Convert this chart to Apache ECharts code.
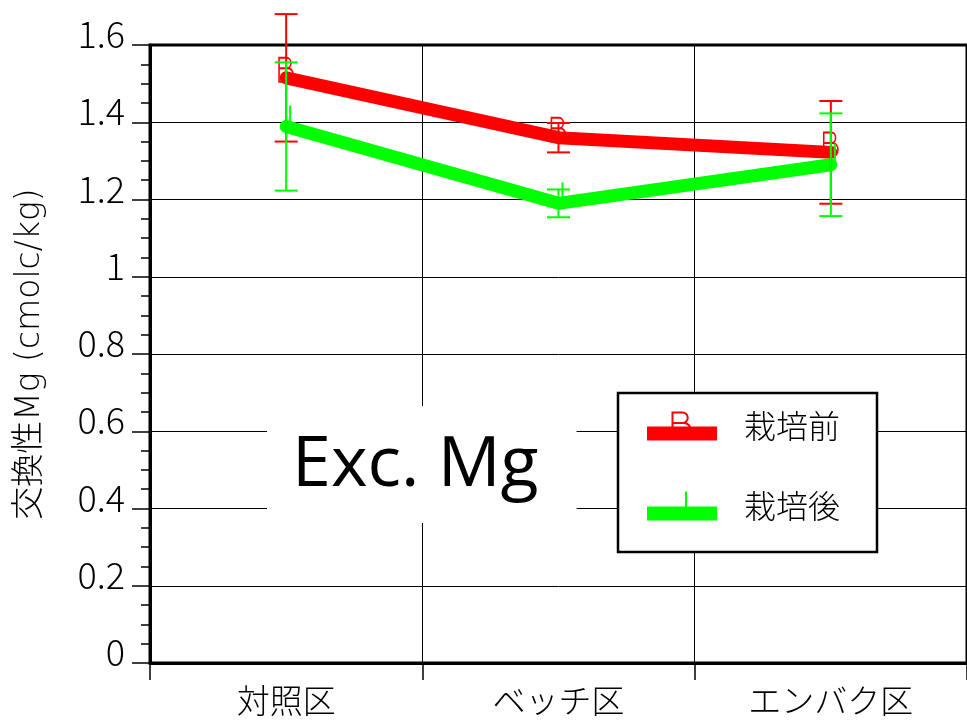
<!DOCTYPE html>
<html>
<head>
<meta charset="utf-8">
<script src="https://cdn.jsdelivr.net/npm/echarts@6/dist/echarts.min.js"></script>
<style>
  html, body { margin: 0; padding: 0; background: #fff; }
  #chart { width: 967px; height: 720px; }
</style>
</head>
<body>
<div id="chart"></div>
<script>
// Plot categories and values (exchangeable Mg, cmolc/kg)
const categories = ['対照区', 'ベッチ区', 'エンバク区'];
const seriesNames = ['栽培前', '栽培後'];
const beforeMean = [1.515, 1.36, 1.322];
const beforeErr = [0.165, 0.038, 0.133];
const afterMean = [1.389, 1.19, 1.29];
const afterErr = [0.166, 0.036, 0.133];
const yTickLabels = ['0', '0.2', '0.4', '0.6', '0.8', '1', '1.2', '1.4', '1.6'];
const panelTitle = 'Exc. Mg';
const yAxisTitle = '交換性Mg (cmolc/kg)';

const RED = '#ff0000';
const GREEN = '#00ff00';
const JP = '"Noto Sans CJK JP", "Noto Sans", sans-serif';
const WIDE = '"DejaVu Sans", "Noto Sans CJK JP", sans-serif';

// Thin outlined "B" glyph built from filled strokes, offset by (ox, oy)
function bGlyph(ox, oy) {
  const p = (x, y) => (ox + x).toFixed(2) + ',' + (oy + y).toFixed(2);
  return [
    'M' + p(0, 0) + ' L' + p(2, 0) + ' L' + p(2, 26) + ' L' + p(0, 26) + ' Z',
    'M' + p(0, 0) + ' L' + p(11, 0) + ' L' + p(11, 2) + ' L' + p(0, 2) + ' Z',
    'M' + p(11, 0) + ' A6.25,6.25 0 0 1 ' + p(11, 12.5) + ' L' + p(11, 10.5) + ' A4.25,4.25 0 0 0 ' + p(11, 2) + ' Z',
    'M' + p(0, 10.5) + ' L' + p(12.5, 10.5) + ' L' + p(12.5, 12.5) + ' L' + p(0, 12.5) + ' Z',
    'M' + p(12.5, 10.5) + ' A7.75,7.75 0 0 1 ' + p(12.5, 26) + ' L' + p(12.5, 24) + ' A5.75,5.75 0 0 0 ' + p(12.5, 12.5) + ' Z',
    'M' + p(0, 24) + ' L' + p(12.5, 24) + ' L' + p(12.5, 26) + ' L' + p(0, 26) + ' Z'
  ].join(' ');
}

const markerB = 'path://' + bGlyph(0, 0);
// Legend keys: a thick bar with the series marker sitting on top of it
const legendIconBefore = 'path://' + bGlyph(24.5, 0) + ' M0,15 L70,15 L70,29 L0,29 Z';
const legendIconAfter = 'path://M38,0 L40,0 L40,15 L38,15 Z M0,15 L70,15 L70,29 L0,29 Z';

function errorBars(name, color, means, errs, z) {
  return {
    type: 'custom',
    name: name + ' error',
    z: z,
    silent: true,
    data: means.map((m, i) => [i, m - errs[i], m + errs[i]]),
    encode: { x: 0, y: [1, 2] },
    renderItem: function (params, api) {
      const lo = api.coord([api.value(0), api.value(1)]);
      const hi = api.coord([api.value(0), api.value(2)]);
      const w = 11.5;
      const style = { stroke: color, lineWidth: 2, fill: null };
      return {
        type: 'group',
        children: [
          { type: 'line', shape: { x1: hi[0], y1: hi[1], x2: lo[0], y2: lo[1] }, style: style },
          { type: 'line', shape: { x1: hi[0] - w, y1: hi[1], x2: hi[0] + w, y2: hi[1] }, style: style },
          { type: 'line', shape: { x1: lo[0] - w, y1: lo[1], x2: lo[0] + w, y2: lo[1] }, style: style }
        ]
      };
    }
  };
}

const chart = echarts.init(document.getElementById('chart'), null, { renderer: 'canvas' });

chart.setOption({
  animation: false,
  backgroundColor: '#fff',
  title: {
    text: panelTitle,
    left: 267,
    top: 406,
    backgroundColor: '#fff',
    padding: [25, 38, 22, 25],
    z: 20,
    textStyle: {
      fontFamily: '"Open Sans", sans-serif',
      fontSize: 70,
      fontWeight: 'normal',
      color: '#000'
    }
  },
  legend: {
    orient: 'vertical',
    left: 618,
    top: 393,
    selectedMode: false,
    backgroundColor: '#fff',
    borderColor: '#000',
    borderWidth: 2.5,
    padding: [17, 37, 30, 29],
    itemWidth: 70,
    itemHeight: 29,
    itemGap: 48,
    z: 20,
    textStyle: {
      fontFamily: JP,
      fontSize: 32,
      fontWeight: 300,
      color: '#000',
      padding: [0, 0, 0, 22]
    },
    data: [
      { name: seriesNames[0], icon: legendIconBefore, itemStyle: { color: RED, borderWidth: 0 } },
      { name: seriesNames[1], icon: legendIconAfter, itemStyle: { color: GREEN, borderWidth: 0 } }
    ]
  },
  grid: {
    left: 150,
    top: 45,
    width: 823,
    height: 618,
    show: true,
    borderColor: '#000',
    borderWidth: 3,
    backgroundColor: 'transparent'
  },
  xAxis: {
    type: 'category',
    data: categories,
    boundaryGap: true,
    axisLine: { lineStyle: { color: '#000', width: 3 } },
    axisTick: { show: true, length: 17, lineStyle: { color: '#000', width: 1.5 } },
    splitLine: { show: true, lineStyle: { color: '#000', width: 1 } },
    axisLabel: { fontFamily: JP, fontSize: 33, fontWeight: 300, color: '#000', margin: 21 }
  },
  yAxis: {
    type: 'value',
    min: 0,
    max: 1.6,
    interval: 0.2,
    name: yAxisTitle,
    nameLocation: 'middle',
    nameRotate: 90,
    nameGap: 103,
    nameTextStyle: { fontFamily: WIDE, fontSize: 33, fontWeight: 300, color: '#000' },
    axisLine: { show: true, lineStyle: { color: '#000', width: 3 } },
    axisTick: { show: true, inside: false, length: 18, lineStyle: { color: '#000', width: 1.5 } },
    minorTick: { show: true, splitNumber: 4, length: 9, lineStyle: { color: '#000', width: 1.5 } },
    splitLine: { show: true, lineStyle: { color: '#000', width: 1 } },
    axisLabel: {
      fontFamily: JP,
      fontSize: 36,
      fontWeight: 300,
      color: '#000',
      margin: 25,
      verticalAlign: 'bottom',
      lineHeight: 21,
      formatter: (v, i) => yTickLabels[i]
    }
  },
  series: [
    {
      type: 'line',
      name: seriesNames[0],
      data: beforeMean,
      z: 2,
      symbol: markerB,
      symbolSize: [20.25, 26],
      symbolKeepAspect: true,
      symbolOffset: [0, -8],
      showAllSymbol: true,
      itemStyle: { color: RED, borderWidth: 0 },
      lineStyle: { color: RED, width: 13, cap: 'round', join: 'round' },
      emphasis: { disabled: true }
    },
    {
      type: 'line',
      name: seriesNames[1],
      data: afterMean,
      z: 3,
      symbol: 'rect',
      symbolSize: [2, 21],
      symbolOffset: [4, -10.5],
      showAllSymbol: true,
      itemStyle: { color: GREEN, borderWidth: 0 },
      lineStyle: { color: GREEN, width: 13, cap: 'round', join: 'round' },
      emphasis: { disabled: true }
    },
    errorBars(seriesNames[0], RED, beforeMean, beforeErr, 4),
    errorBars(seriesNames[1], GREEN, afterMean, afterErr, 5)
  ]
});
</script>
</body>
</html>
